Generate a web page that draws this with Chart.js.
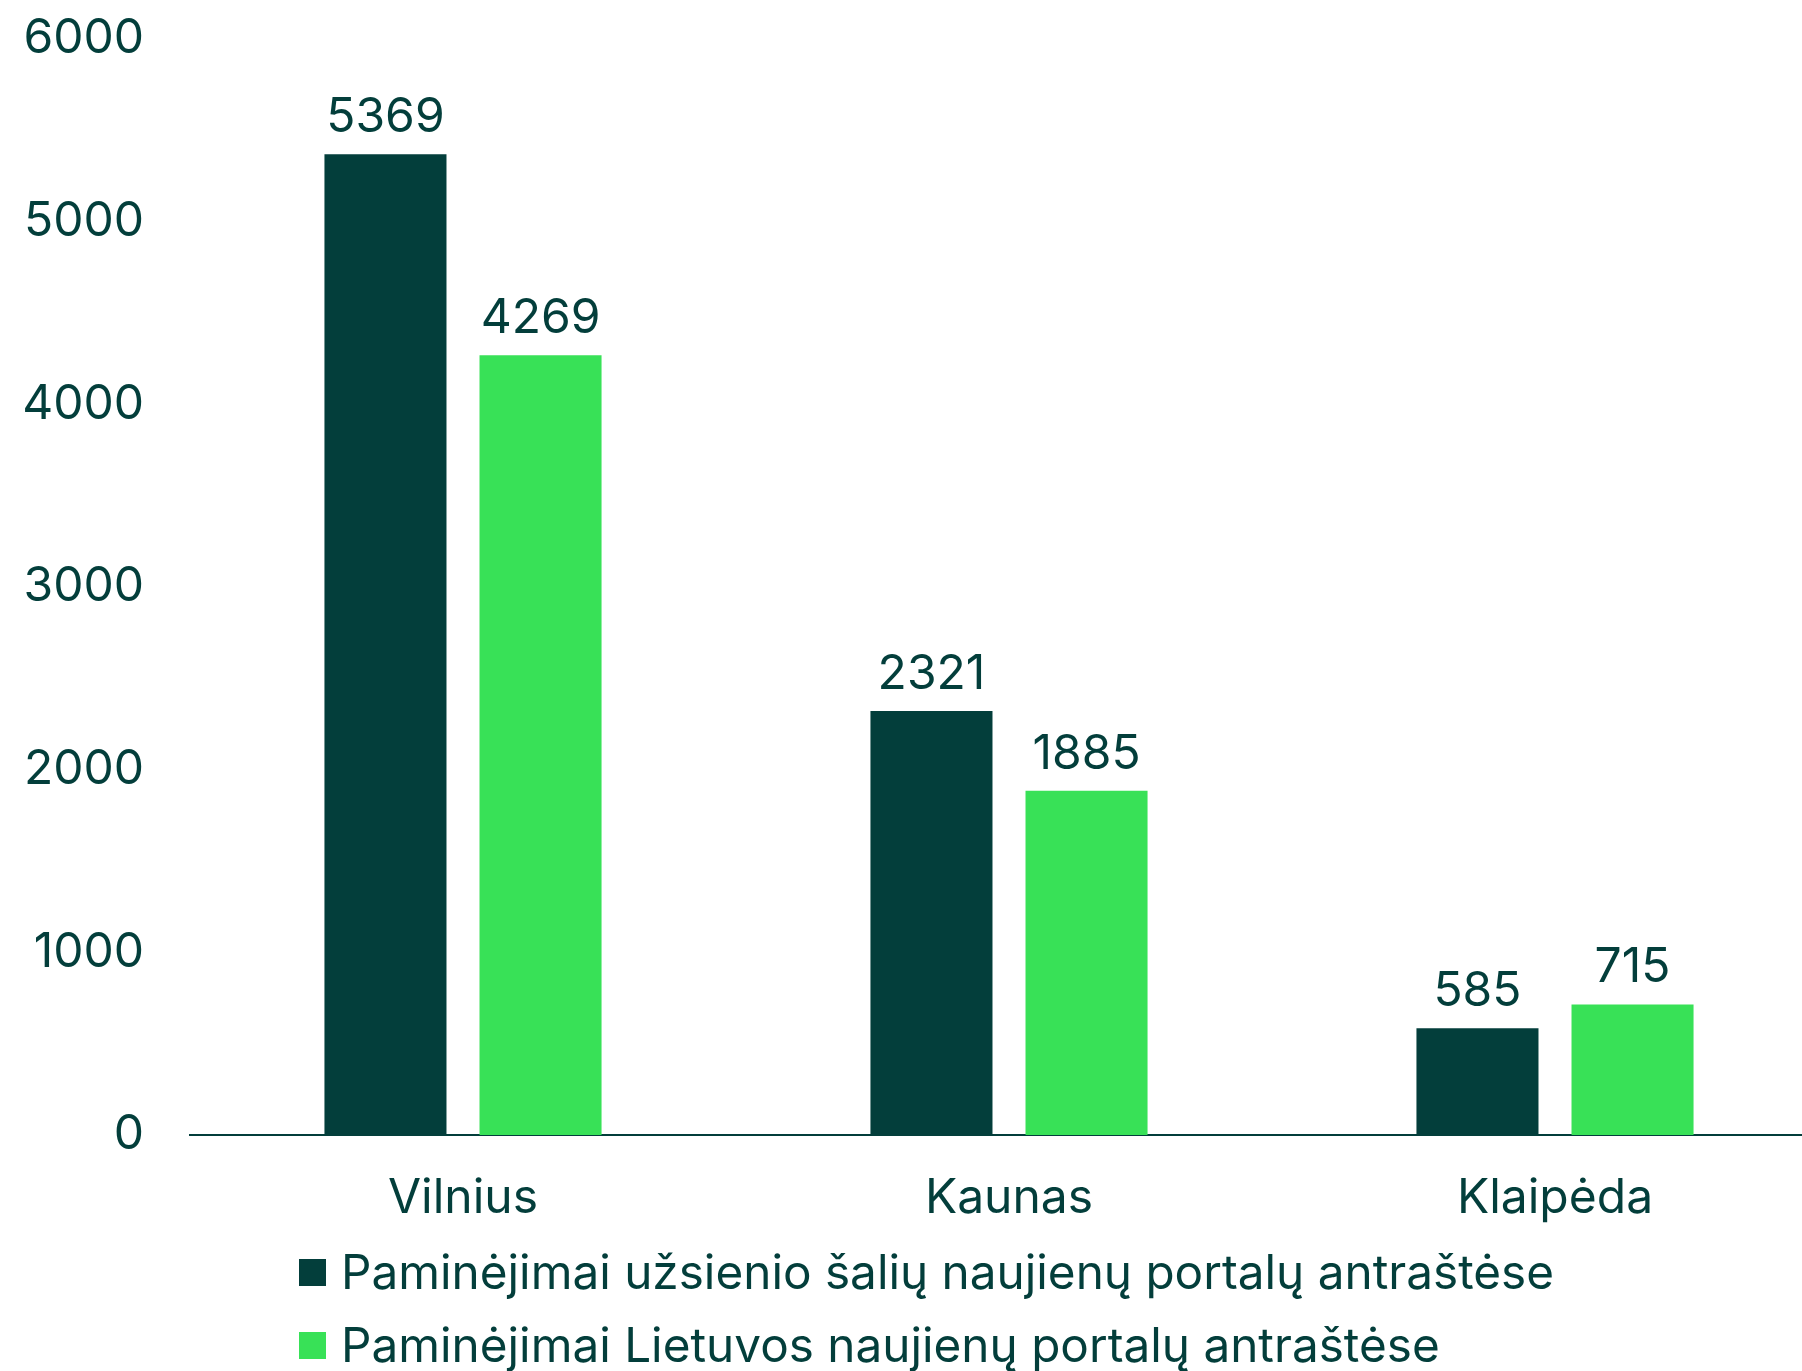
<!DOCTYPE html>
<html>
<head>
<meta charset="utf-8">
<script src="https://cdn.jsdelivr.net/npm/chart.js@4/dist/chart.umd.min.js"></script>
<style>
  html, body { margin: 0; padding: 0; background: #fff; overflow: hidden; }
  #wrap { position: relative; width: 1802px; height: 1371px; overflow: hidden; }
  #chart { position: absolute; left: 0; top: 0; }
  #legend { position: absolute; left: 299px; top: 1236px; font-family: Inter, sans-serif; font-size: 47.7px; color: #033e3b; }
  .row { display: flex; align-items: center; height: 73px; line-height: 73px; white-space: nowrap; }
  .sw { width: 27px; height: 27px; margin-right: 15px; }
</style>
</head>
<body>
<div id="wrap">
  <canvas id="chart" width="1830" height="1371"></canvas>
  <div id="legend"></div>
</div>
<script>
// data
const cities = ["Vilnius", "Kaunas", "Klaipėda"];
const foreignMentions = [5369, 2321, 585];
const lithuanianMentions = [4269, 1885, 715];
const seriesNames = [
  "Paminėjimai užsienio šalių naujienų portalų antraštėse",
  "Paminėjimai Lietuvos naujienų portalų antraštėse"
];
const yTicks = [0, 1000, 2000, 3000, 4000, 5000, 6000];

const DARK = "#033e3b";
const GREEN = "#38e157";

Chart.defaults.font.family = "Inter, sans-serif";
Chart.defaults.font.size = 48;
Chart.defaults.color = DARK;

// value labels on top of the bars
const barValues = {
  id: "barValues",
  afterDatasetsDraw(chart) {
    const ctx = chart.ctx;
    ctx.save();
    ctx.font = "48px Inter, sans-serif";
    ctx.fillStyle = DARK;
    ctx.textAlign = "center";
    ctx.textBaseline = "alphabetic";
    chart.data.datasets.forEach((ds, i) => {
      chart.getDatasetMeta(i).data.forEach((bar, j) => {
        ctx.fillText(String(ds.data[j]), bar.x, bar.y - 22);
      });
    });
    ctx.restore();
  }
};

const chart = new Chart(document.getElementById("chart"), {
  type: "bar",
  data: {
    labels: cities,
    datasets: [
      { label: seriesNames[0], data: foreignMentions, backgroundColor: DARK },
      { label: seriesNames[1], data: lithuanianMentions, backgroundColor: GREEN }
    ]
  },
  options: {
    responsive: false,
    animation: false,
    layout: { padding: { top: 39, right: 2, bottom: 136, left: 0 } },
    datasets: { bar: { categoryPercentage: 0.568, barPercentage: 0.787 } },
    plugins: {
      legend: { display: false },
      tooltip: { enabled: false }
    },
    scales: {
      x: {
        grid: { display: false, drawTicks: false },
        border: { display: true, color: DARK, width: 2 },
        ticks: { padding: 35, color: DARK },
        afterFit: (axis) => { axis.height = 100; }
      },
      y: {
        min: 0,
        max: 6000,
        afterBuildTicks: (axis) => { axis.ticks = yTicks.map(v => ({ value: v })); },
        grid: { display: false, drawTicks: false },
        border: { display: false },
        ticks: { padding: 46, color: DARK, callback: (v) => String(v) },
        afterFit: (axis) => {
          axis.width = 190;
          axis.paddingTop = 0;
          axis.paddingBottom = 0;
        }
      }
    }
  },
  plugins: [barValues]
});

// legend rows, left aligned like the original
const legend = document.getElementById("legend");
chart.data.datasets.forEach((ds) => {
  const row = document.createElement("div");
  row.className = "row";
  const sw = document.createElement("span");
  sw.className = "sw";
  sw.style.background = ds.backgroundColor;
  const txt = document.createElement("span");
  txt.textContent = ds.label;
  row.appendChild(sw);
  row.appendChild(txt);
  legend.appendChild(row);
});
</script>
</body>
</html>
